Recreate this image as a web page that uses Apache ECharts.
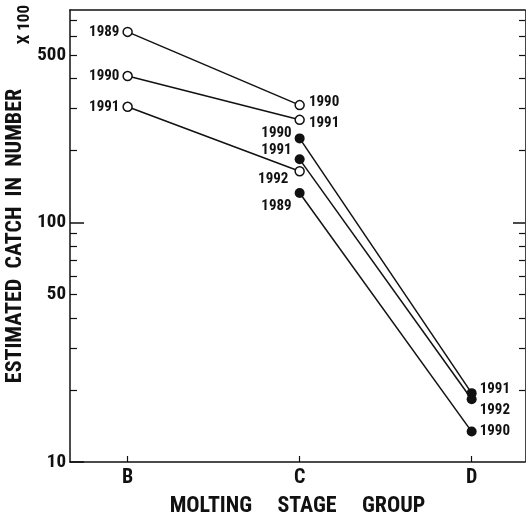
<!DOCTYPE html>
<html>
<head>
<meta charset="utf-8">
<script src="https://cdn.jsdelivr.net/npm/echarts@6/dist/echarts.min.js"></script>
<style>
html,body{margin:0;padding:0;background:#fff;}
#chart{width:527px;height:517px;}
</style>
</head>
<body>
<div id="chart"></div>
<script>
// ---- data ----
const stages = ['B', 'C', 'D'];
// open circles: stage B (year y) -> stage C (year y+1)
const hollowYears = [['1989', '1990'], ['1990', '1991'], ['1991', '1992']];
const hollowValues = [[627, 310], [410, 269], [305, 164]];
// filled circles: stage C (year y) -> stage D (year y+1)
const filledYears = [['1990', '1991'], ['1991', '1992'], ['1989', '1990']];
const filledValues = [[225, 19.4], [184, 18.3], [133, 13.4]];
const yLabelValues = [10, 50, 100, 500];
const yMinorTicks = [20, 30, 40, 50, 60, 70, 80, 90, 200, 300, 400, 500, 600, 700];
const yMajorTicks = [10, 100];
const yMin = 10, yMax = 774;

// ---- style ----
const FONT = '"Roboto Condensed", "Open Sans", sans-serif';
const WEIGHT = 'bold';
const INK = '#111';
const xMin = -0.335, xMax = 2.31;
const hollowPlace = [
  [{position: 'left', distance: 3, offset: [0, 0]}, {position: 'right', distance: 4, offset: [0, -3]}],
  [{position: 'left', distance: 3, offset: [0, 0]}, {position: 'right', distance: 4, offset: [0, 3]}],
  [{position: 'left', distance: 3, offset: [0, 0]}, {position: 'left', distance: 6, offset: [0, 8]}]
];
const filledPlace = [
  [{position: 'left', distance: 3, offset: [0, -5]}, {position: 'right', distance: 3, offset: [0, -4]}],
  [{position: 'left', distance: 3, offset: [0, -9]}, {position: 'right', distance: 3, offset: [0, 11]}],
  [{position: 'left', distance: 3, offset: [0, 13]}, {position: 'right', distance: 3, offset: [0, 0]}]
];

function buildSeries(values, years, place, startIdx, filled) {
  return values.map((vals, i) => ({
    type: 'line',
    xAxisIndex: 0, yAxisIndex: 0,
    symbol: 'circle',
    symbolSize: filled ? 10 : 9,
    lineStyle: {color: INK, width: 1.5},
    itemStyle: filled ? {color: INK} : {color: '#fff', borderColor: INK, borderWidth: 1.5},
    label: {show: true, color: INK, fontFamily: FONT, fontWeight: WEIGHT, fontSize: 15, formatter: p => p.name},
    z: filled ? 3 : 4,
    data: vals.map((v, j) => ({
      name: years[i][j],
      value: [startIdx + j, v],
      label: place[i][j]
    }))
  }));
}

const chart = echarts.init(document.getElementById('chart'), null, {renderer: 'canvas'});
const gridRect = {left: 70, right: 2, top: 10, bottom: 55, containLabel: false, outerBoundsMode: 'none'};
const option = {
  animation: false,
  backgroundColor: '#fff',
  grid: [Object.assign({}, gridRect), Object.assign({}, gridRect)],
  xAxis: [
    {
      type: 'value', gridIndex: 0, min: xMin, max: xMax, position: 'bottom',
      name: 'MOLTING     STAGE     GROUP', nameLocation: 'middle', nameGap: 33,
      nameTextStyle: {fontFamily: FONT, fontWeight: WEIGHT, fontSize: 22, color: INK},
      axisLine: {show: true, onZero: false, lineStyle: {color: INK, width: 1.5}},
      axisTick: {show: true, inside: true, length: 6, customValues: [0, 1, 2], lineStyle: {color: INK, width: 1.2}},
      axisLabel: {show: true, customValues: [0, 1, 2], margin: 6, fontFamily: FONT, fontWeight: WEIGHT, fontSize: 20, color: INK,
        formatter: v => stages[Math.round(v)]},
      splitLine: {show: false}
    },
    {
      type: 'value', gridIndex: 1, min: xMin, max: xMax, position: 'top',
      axisLine: {show: true, onZero: false, lineStyle: {color: INK, width: 1.5}},
      axisTick: {show: false}, axisLabel: {show: false}, splitLine: {show: false}
    }
  ],
  yAxis: [
    {
      type: 'log', logBase: 10, gridIndex: 0, min: yMin, max: yMax, position: 'left',
      name: 'ESTIMATED  CATCH  IN  NUMBER', nameLocation: 'middle', nameGap: 44, nameRotate: 90,
      nameTextStyle: {fontFamily: FONT, fontWeight: WEIGHT, fontSize: 22, color: INK},
      axisLine: {show: true, onZero: false, lineStyle: {color: INK, width: 1.5}},
      axisTick: {show: true, inside: true, length: 7, customValues: yMinorTicks, lineStyle: {color: INK, width: 1.2}},
      axisLabel: {show: true, customValues: yLabelValues, margin: 4, fontFamily: FONT, fontWeight: WEIGHT, fontSize: 19, color: INK},
      splitLine: {show: false}
    },
    {
      type: 'log', logBase: 10, gridIndex: 0, min: yMin, max: yMax, position: 'right',
      axisLine: {show: true, onZero: false, lineStyle: {color: '#444', width: 1}},
      axisTick: {show: true, inside: true, length: 6, customValues: yMinorTicks, lineStyle: {color: INK, width: 1.2}},
      axisLabel: {show: false},
      splitLine: {show: false}
    },
    {
      type: 'log', logBase: 10, gridIndex: 1, min: yMin, max: yMax, position: 'left',
      axisLine: {show: false, onZero: false},
      axisTick: {show: true, inside: true, length: 14, customValues: yMajorTicks, lineStyle: {color: INK, width: 1.5}},
      axisLabel: {show: false},
      splitLine: {show: false}
    },
    {
      type: 'log', logBase: 10, gridIndex: 1, min: yMin, max: yMax, position: 'right',
      axisLine: {show: false, onZero: false},
      axisTick: {show: true, inside: true, length: 12, customValues: [100], lineStyle: {color: INK, width: 1.5}},
      axisLabel: {show: false},
      splitLine: {show: false}
    }
  ],
  graphic: [{
    type: 'text', left: 16, top: 5, rotation: Math.PI / 2,
    style: {text: 'X 100', fontFamily: FONT, fontWeight: WEIGHT, fontSize: 17, fill: INK}
  }],
  series: [].concat(
    buildSeries(hollowValues, hollowYears, hollowPlace, 0, false),
    buildSeries(filledValues, filledYears, filledPlace, 1, true)
  )
};
chart.setOption(option);
</script>
</body>
</html>
